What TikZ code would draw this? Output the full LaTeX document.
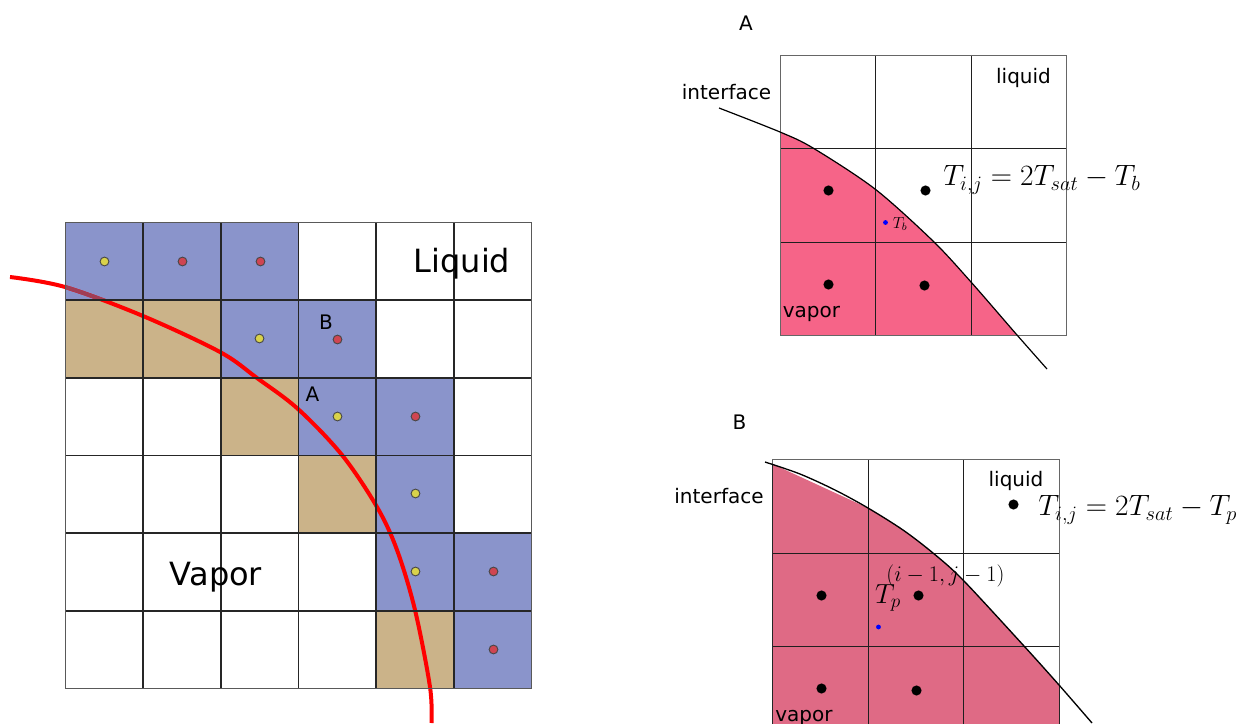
\documentclass[tikz,border=0pt]{standalone}
\usepackage{amsmath}
\usepackage{fontspec}
\setmainfont{DejaVu Sans}
\usepackage{tikz}
\definecolor{cellblue}{HTML}{8A94CB}
\definecolor{celltan}{HTML}{CBB389}
\definecolor{dotyellow}{HTML}{D9D24A}
\definecolor{dotred}{HTML}{CF4552}
\definecolor{vaporA}{HTML}{F66488}
\definecolor{vaporB}{HTML}{DF6A85}
\tikzset{
  gridline/.style={black!88, line width=0.9pt},
  mainline/.style={black!85, line width=1.05pt},
  gridedge/.style={black!60, line width=0.9pt},
  mainedge/.style={black!65, line width=1pt},
  probe/.style={circle, draw=black!72, line width=0.7pt, inner sep=0pt, minimum size=6.6pt},
  cellpt/.style={circle, fill=black, inner sep=0pt, minimum size=7.6pt},
  bluept/.style={circle, fill=blue, inner sep=0pt, minimum size=3.6pt},
  txt/.style={inner sep=0pt, font=\fontsize{15}{18}\selectfont},
  bigtxt/.style={inner sep=0pt, font=\fontsize{24}{28}\selectfont},
  eqn/.style={inner sep=0pt, anchor=west, font=\fontsize{21}{24}\selectfont}
}

\begin{document}
\begin{tikzpicture}[x=0.75pt, y=-0.75pt]
  \useasboundingbox (0, 0) rectangle (1246, 724);

  % Left grid: cells
  \foreach \cx/\cy in {0/0, 1/0, 2/0, 2/1, 3/1, 3/2, 4/2, 4/3, 4/4, 5/4, 5/5}
    \fill[cellblue] ({65.5+77.67*\cx}, {222.5+77.67*\cy}) rectangle ++(77.67, 77.67);
  \foreach \cx/\cy in {0/1, 1/1, 2/2, 3/3, 4/5}
    \fill[celltan] ({65.5+77.67*\cx}, {222.5+77.67*\cy}) rectangle ++(77.67, 77.67);

  % Red interface
  \draw[red, line width=3pt] plot[smooth, tension=0.55] coordinates {(10, 277) (65, 287) (143, 316) (220, 352) (257, 378) (298, 409) (342, 455) (377, 507) (397, 550) (415, 610) (430, 687) (431.5, 723)};
  \begin{scope}
    \clip (65.5, 222.5) rectangle (143.2, 300.2);
    \draw[black!30!cellblue!60!red, line width=3pt] plot[smooth, tension=0.55] coordinates {(10, 277) (65, 287) (143, 316) (220, 352)};
  \end{scope}

  % Left grid: lines
  \foreach \i in {1,...,5} {
    \draw[mainline] ({65.5+77.67*\i}, 222.5) -- ({65.5+77.67*\i}, 688.5);
    \draw[mainline] (65.5, {222.5+77.67*\i}) -- (531.5, {222.5+77.67*\i});
  }
  \draw[mainedge] (65.5, 222.5) rectangle (531.5, 688.5);

  % Probes
  \foreach \px/\py/\pc [count=\n] in {104/261/dotyellow, 182/261/dotred, 260/261/dotred, 259/338/dotyellow, 337/339/dotred, 337/416/dotyellow, 415/416/dotred, 415/493/dotyellow, 415/571/dotyellow, 493/571/dotred, 493/649/dotred}
    \node[probe, fill=\pc] (probe\n) at ({\px+0.5}, {\py+0.5}) {};

  \node[bigtxt] (liquid) at (462, 264) {Liquid};
  \node[bigtxt] (vapor) at (216, 577) {Vapor};
  \node[txt] (labelB) at (326, 322.5) {B};
  \node[txt] (labelA) at (312.5, 394.5) {A};

  % Panel A
  \fill[vaporA] plot[smooth, tension=0.5] coordinates {(780, 132) (813, 148) (875, 189) (933, 241) (971, 282) (1017, 335)} -- (780, 335) -- cycle;
  \foreach \gx in {875.5, 971.5}
    \draw[gridline] (\gx, 55) -- (\gx, 335);
  \foreach \gy in {148.5, 242.5}
    \draw[gridline] (780, \gy) -- (1066.5, \gy);
  \draw[gridedge] (780.5, 55.5) rectangle (1066.5, 335.5);
  \draw[black, line width=0.9pt] plot[smooth, tension=0.5] coordinates {(719, 108) (780, 132) (813, 148) (875, 189) (933, 241) (971, 282) (1017, 335) (1047, 369)};

  \foreach \px/\py [count=\n] in {828/190, 925/190, 828/284, 924/285}
    \node[cellpt] (ptA\n) at ({\px+0.5}, {\py+0.5}) {};
  \node[bluept] (probeA) at (885.5, 222.5) {};
  \node[inner sep=0pt, anchor=west, font=\fontsize{12}{14}\selectfont] (tb) at (892.5, 224) {$T_b$};
  \node[txt] (titleA) at (746, 23) {A};
  \node[txt] (ifaceA) at (726.5, 92.5) {interface};
  \node[txt] (liquidA) at (1023.5, 78) {liquid};
  \node[txt] (vaporA) at (811.5, 314) {vapor};
  \node[eqn] (eqA) at (943, 180) {\scalebox{1.065}{$T_{i,j} = 2T_{sat} - T_b$}};

  % Panel B
  \fill[vaporB] (772.5, 464) -- (868, 508) -- plot[smooth, tension=0.5] coordinates {(868, 508) (903, 530) (933, 553) (963, 580) (1024, 646) (1059, 685)} -- (1059, 724) -- (772.5, 724) -- cycle;
  \foreach \gx in {868.5, 963.5}
    \draw[gridline] (\gx, 459.5) -- (\gx, 724);
  \foreach \gy in {553.5, 646.5}
    \draw[gridline] (772.5, \gy) -- (1059, \gy);
  \draw[gridedge] (772.5, 724) -- (772.5, 459.5) -- (1059.5, 459.5) -- (1059.5, 724);
  \draw[black!85, line width=0.9pt] (772.5, 464) -- (772.5, 724) (1059.5, 685) -- (1059.5, 724);
  \draw[black, line width=1pt] plot[smooth, tension=0.5] coordinates {(765, 462) (800, 474) (835, 490) (868, 508) (903, 530) (933, 553) (963, 580) (1024, 646) (1059, 685) (1092, 723)};

  \foreach \px/\py [count=\n] in {1013/504, 821/595, 918/595, 821/688, 916/690}
    \node[cellpt] (ptB\n) at ({\px+0.5}, {\py+0.5}) {};
  \node[bluept] (probeB) at (878.5, 627) {};
  \node[txt] (titleB) at (739.5, 422.5) {B};
  \node[txt] (ifaceB) at (719, 496.5) {interface};
  \node[txt] (liquidB) at (1016, 481) {liquid};
  \node[txt] (vaporB) at (804, 718) {vapor};
  \node[eqn] (eqB) at (1038, 510) {\scalebox{1.065}{$T_{i,j} = 2T_{sat} - T_p$}};
  \node[inner sep=0pt, font=\fontsize{17}{20}\selectfont] (cellij) at (945.5, 575.5) {\scalebox{0.967}{$(i-1, j-1)$}};
  \node[inner sep=0pt, font=\fontsize{21}{24}\selectfont] (tp) at (888, 597.5) {$T_p$};
\end{tikzpicture}
\end{document}
